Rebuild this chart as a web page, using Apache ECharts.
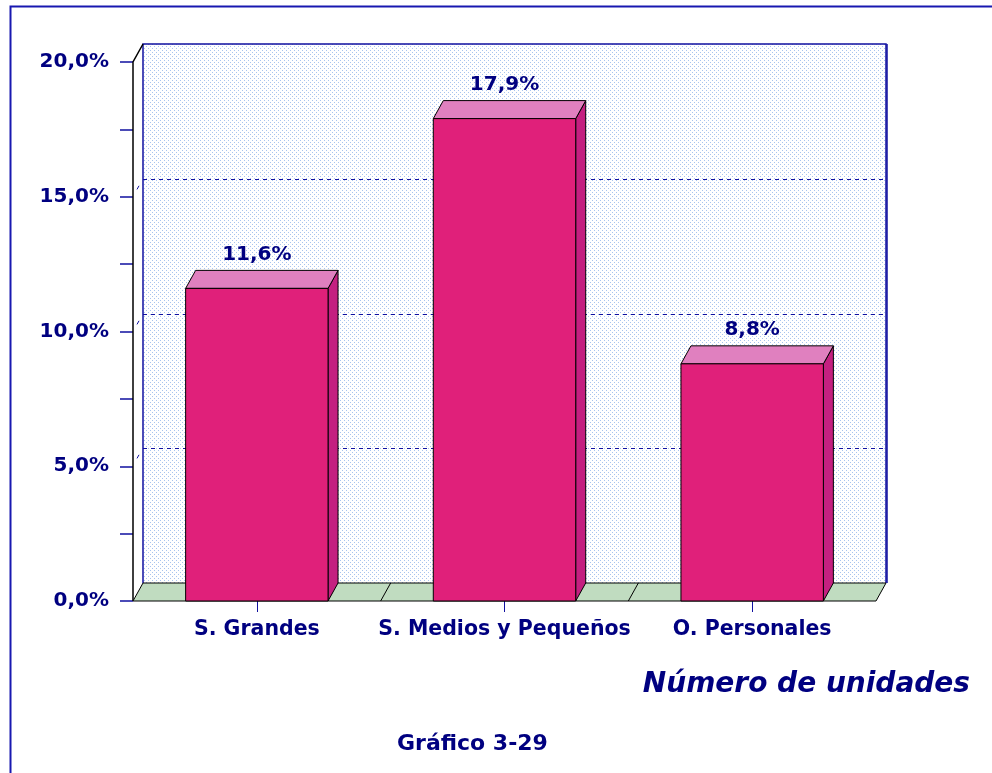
<!DOCTYPE html>
<html>
<head>
<meta charset="utf-8">
<title>Gráfico 3-29</title>
<script src="https://cdn.jsdelivr.net/npm/echarts@6/dist/echarts.min.js"></script>
<style>
  html,body{margin:0;padding:0;background:#fff;}
  #chart{width:992px;height:773px;}
</style>
</head>
<body>
<div id="chart"></div>
<script type="text/javascript">
// datos
var categorias = ['S. Grandes', 'S. Medios y Pequeños', 'O. Personales'];
var valores = [11.6, 17.9, 8.8];
var etiquetas = ['11,6%', '17,9%', '8,8%'];
var yTicks = [0, 5, 10, 15, 20];

var NAVY = '#000080';
var AZUL = '#1010a0';
var DX = 10, DY = -18;   // desplazamiento de profundidad (px)
var FONT = '"DejaVu Sans", Verdana, sans-serif';

// patron de puntos del fondo
function patron() {
  var c = document.createElement('canvas');
  c.width = 4; c.height = 4;
  var ctx = c.getContext('2d');
  ctx.fillStyle = '#ffffff';
  ctx.fillRect(0, 0, 4, 4);
  ctx.fillStyle = '#a8c4ee';
  ctx.fillRect(0, 0, 1, 1);
  ctx.fillRect(2, 2, 1, 1);
  return c;
}

function fmt(v) {
  return v.toFixed(1).replace('.', ',') + '%';
}

// fondo: pared, suelo y lineas de division
function renderFondo(params, api) {
  var band = api.size([1, 0])[0];
  var n = categorias.length;
  var y0 = api.coord([0, yTicks[0]])[1];
  var yMax = api.coord([0, yTicks[yTicks.length - 1]])[1];
  var left = api.coord([0, 0])[0] - band / 2;
  var right = left + band * n;
  var ch = [];
  // pared del fondo
  ch.push({type: 'rect', shape: {x: left + DX, y: yMax + DY, width: right - left, height: y0 - yMax},
    style: {fill: {image: patron(), repeat: 'repeat'}, stroke: null}});
  ch.push({type: 'polyline', shape: {points: [[left + DX, y0 + DY], [left + DX, yMax + DY], [right + DX, yMax + DY], [right + DX, y0 + DY]]},
    style: {fill: null, stroke: AZUL, lineWidth: 1.5}});
  ch.push({type: 'line', shape: {x1: right + DX + 1, y1: yMax + DY, x2: right + DX + 1, y2: y0 + DY},
    style: {stroke: AZUL, lineWidth: 1.5}});
  // lineas de division
  for (var i = 1; i < yTicks.length - 1; i++) {
    var y = Math.round(api.coord([0, yTicks[i]])[1]) + 0.5;
    ch.push({type: 'line', shape: {x1: left + DX, y1: y + DY, x2: right + DX, y2: y + DY},
      style: {stroke: AZUL, lineWidth: 1, lineDash: [4, 4]}});
    ch.push({type: 'line', shape: {x1: left + 4, y1: y + DY * 0.45, x2: left + 6, y2: y + DY * 0.65},
      style: {stroke: AZUL, lineWidth: 1}});
  }
  // eje vertical (cara lateral)
  ch.push({type: 'polyline', shape: {points: [[left, y0], [left, yMax], [left + DX, yMax + DY]]},
    style: {fill: null, stroke: '#000', lineWidth: 1.5}});
  // suelo
  ch.push({type: 'polygon', shape: {points: [[left, y0], [right, y0], [right + DX, y0 + DY], [left + DX, y0 + DY]]},
    style: {fill: '#c0dcc0', stroke: '#000', lineWidth: 1}});
  for (var k = 1; k < n; k++) {
    var x = left + band * k;
    ch.push({type: 'line', shape: {x1: x, y1: y0, x2: x + DX, y2: y0 + DY},
      style: {stroke: '#000', lineWidth: 1}});
  }
  return {type: 'group', children: ch};
}

// barras con efecto 3D
function renderBarra(params, api) {
  var idx = api.value(0);
  var top = api.coord([idx, api.value(1)]);
  var base = api.coord([idx, 0]);
  var w = api.size([1, 0])[0] * 0.575;
  var x1 = top[0] - w / 2, x2 = top[0] + w / 2;
  var yt = top[1], yb = base[1];
  return {
    type: 'group',
    children: [
      {type: 'polygon', shape: {points: [[x2, yt], [x2 + DX, yt + DY], [x2 + DX, yb + DY], [x2, yb]]},
        style: {fill: '#c42080', stroke: '#000', lineWidth: 1}},
      {type: 'polygon', shape: {points: [[x1, yt], [x1 + DX, yt + DY], [x2 + DX, yt + DY], [x2, yt]]},
        style: {fill: '#e080bf', stroke: '#000', lineWidth: 1}},
      {type: 'rect', shape: {x: x1, y: yt, width: w, height: yb - yt},
        style: {fill: '#e0207a', stroke: '#000', lineWidth: 1}},
      {type: 'text', x: top[0], y: yt + DY - 6,
        style: {text: etiquetas[params.dataIndex], fill: NAVY, font: 'bold 20px ' + FONT,
          textAlign: 'center', textVerticalAlign: 'bottom'}}
    ]
  };
}

var datos = valores.map(function (v, i) { return [i, v]; });

var chart = echarts.init(document.getElementById('chart'));
chart.setOption({
  animation: false,
  backgroundColor: '#ffffff',
  grid: {left: 133, right: 116, top: 62, bottom: 172},
  xAxis: {
    type: 'category',
    data: categorias,
    axisLine: {show: false},
    axisTick: {show: true, alignWithLabel: true, length: 11, lineStyle: {color: AZUL}},
    axisLabel: {color: NAVY, fontFamily: FONT, fontWeight: 'bold', fontSize: 20.5, margin: 18,
      interval: 0, hideOverlap: false}
  },
  yAxis: {
    type: 'value',
    min: 0, max: 20, interval: 5,
    axisLine: {show: false},
    axisTick: {show: true, length: 13, lineStyle: {color: AZUL, width: 1.5}},
    minorTick: {show: true, splitNumber: 2, length: 13, lineStyle: {color: AZUL, width: 1.5}},
    splitLine: {show: false},
    axisLabel: {color: NAVY, fontFamily: FONT, fontWeight: 'bold', fontSize: 20, margin: 24,
      formatter: function (v) { return fmt(v); }}
  },
  graphic: [
    {type: 'rect', left: 8, top: 4, shape: {width: 1200, height: 1000}, silent: true,
      style: {fill: null, stroke: '#1818b0', lineWidth: 2}},
    {type: 'text', right: 22, top: 671,
      style: {text: 'Número de unidades', fill: NAVY, font: 'italic bold 28px ' + FONT}},
    {type: 'text', left: 397, top: 733,
      style: {text: 'Gráfico 3-29', fill: NAVY, font: 'bold 22px ' + FONT}}
  ],
  series: [
    {type: 'custom', renderItem: renderFondo, data: [[0]], silent: true, z: 1},
    {type: 'custom', renderItem: renderBarra, data: datos, z: 2,
      encode: {x: 0, y: 1}}
  ]
});
</script>
</body>
</html>
